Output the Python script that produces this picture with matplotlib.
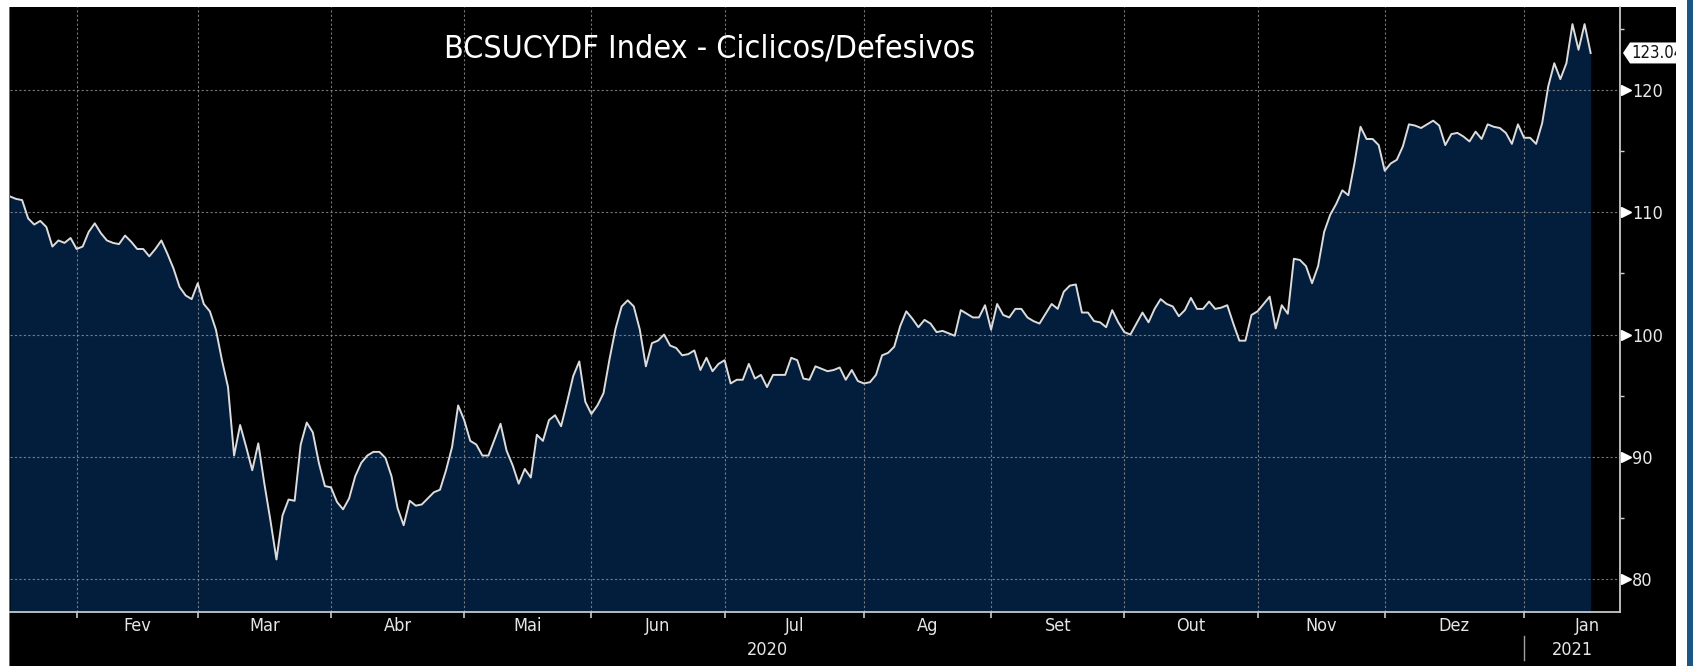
import matplotlib
matplotlib.use('Agg')
import matplotlib.pyplot as plt
import matplotlib.patches as patches
import matplotlib.transforms as mtransforms
import numpy as np

# BCSUCYDF Index, daily closes (business days), one list per month
jan_2020 = [111.3, 111.1, 111.0, 109.5, 109.0, 109.3, 108.8, 107.2, 107.7, 107.5, 107.9]
fev_2020 = [107.0, 107.2, 108.4, 109.1, 108.3, 107.7, 107.5, 107.4, 108.1, 107.6,
            107.0, 107.0, 106.4, 107.0, 107.7, 106.6, 105.4, 103.9, 103.2, 102.9]
mar_2020 = [104.2, 102.5, 101.9, 100.4, 97.9, 95.7, 90.1, 92.6, 90.8, 88.9, 91.1,
            87.8, 84.8, 81.6, 85.2, 86.5, 86.4, 91.0, 92.8, 92.0, 89.5, 87.6]
abr_2020 = [87.5, 86.3, 85.7, 86.6, 88.4, 89.5, 90.1, 90.4, 90.4, 89.9, 88.4,
            85.8, 84.4, 86.4, 86.0, 86.1, 86.6, 87.1, 87.3, 88.9, 90.8, 94.2]
mai_2020 = [93.0, 91.3, 91.0, 90.1, 90.1, 91.4, 92.7, 90.5, 89.3, 87.8, 89.0,
            88.3, 91.8, 91.3, 93.0, 93.4, 92.5, 94.5, 96.6, 97.8, 94.5]
jun_2020 = [93.5, 94.2, 95.2, 98.0, 100.5, 102.3, 102.8, 102.3, 100.4, 97.4, 99.3,
            99.5, 100.0, 99.1, 98.9, 98.3, 98.4, 98.7, 97.1, 98.1, 97.0, 97.6]
jul_2020 = [97.9, 96.0, 96.3, 96.3, 97.6, 96.4, 96.7, 95.7, 96.7, 96.7, 96.7, 98.1,
            97.9, 96.4, 96.3, 97.4, 97.2, 97.0, 97.1, 97.3, 96.3, 97.1, 96.2]
ago_2020 = [96.0, 96.1, 96.7, 98.3, 98.5, 99.0, 100.7, 101.9, 101.3, 100.6, 101.2,
            100.9, 100.2, 100.3, 100.1, 99.9, 102.0, 101.7, 101.4, 101.4, 102.4]
set_2020 = [100.4, 102.5, 101.6, 101.4, 102.1, 102.1, 101.4, 101.1, 100.9, 101.7, 102.5,
            102.1, 103.5, 104.0, 104.1, 101.8, 101.8, 101.1, 101.0, 100.6, 102.0, 101.0]
out_2020 = [100.2, 100.0, 100.9, 101.8, 101.0, 102.1, 102.9, 102.5, 102.3, 101.5, 102.0,
            103.0, 102.1, 102.1, 102.7, 102.1, 102.2, 102.4, 100.9, 99.5, 99.5, 101.6]
nov_2020 = [101.9, 102.5, 103.1, 100.5, 102.4, 101.7, 106.2, 106.1, 105.6, 104.2, 105.6,
            108.4, 109.8, 110.7, 111.8, 111.4, 114.0, 117.0, 116.0, 116.0, 115.5]
dez_2020 = [113.4, 114.0, 114.3, 115.4, 117.2, 117.1, 116.9, 117.2, 117.5, 117.1, 115.5, 116.4,
            116.5, 116.2, 115.8, 116.6, 116.0, 117.2, 117.0, 116.9, 116.5, 115.6, 117.2]
jan_2021 = [116.1, 116.1, 115.6, 117.3, 120.3, 122.2, 120.9, 122.2, 125.4, 123.3, 125.4, 123.04]

month_labels = ['Fev', 'Mar', 'Abr', 'Mai', 'Jun', 'Jul', 'Ag', 'Set', 'Out', 'Nov', 'Dez', 'Jan']
year_labels = ['2020', '2021']
y_ticks = [80, 90, 100, 110, 120]
y_minor = [85, 95, 105, 115, 125]

title = 'BCSUCYDF Index - Ciclicos/Defesivos'

months = [jan_2020, fev_2020, mar_2020, abr_2020, mai_2020, jun_2020, jul_2020,
          ago_2020, set_2020, out_2020, nov_2020, dez_2020, jan_2021]
values = np.concatenate([np.array(m, dtype=float) for m in months])
x = np.arange(len(values))
month_starts = np.cumsum([len(m) for m in months])[:-1]

plt.rcParams['font.family'] = ['Liberation Sans Narrow', 'DejaVu Sans']
plt.rcParams['font.stretch'] = 'condensed'

W, H = 1693, 666
fig = plt.figure(figsize=(W / 100, H / 100), dpi=100)
fig.patch.set_facecolor('white')

# black panel, blue edge line on the left and blue strip on the right
fig.patches.append(patches.Rectangle((10 / W, 0), 1666 / W, 659 / H, transform=fig.transFigure,
                                     facecolor='black', edgecolor='none', zorder=-2))
fig.patches.append(patches.Rectangle((8.5 / W, 0), 1.8 / W, 659 / H, transform=fig.transFigure,
                                     facecolor='#2a78c8', edgecolor='none', zorder=-1))
fig.patches.append(patches.Rectangle((1687 / W, 0), 6 / W, 1, transform=fig.transFigure,
                                     facecolor='#1b5583', edgecolor='none', zorder=-1))

ax = fig.add_axes([10 / W, 54 / H, 1610 / W, 605 / H])
ax.set_zorder(2)
ax.set_facecolor('black')

y_low, y_high = 77.3, 126.8
x_high = 265.85

ax.fill_between(x, values, y_low, color='#031d3c', linewidth=0, zorder=1)
ax.plot(x, values, color='#dcdcdc', linewidth=1.4, zorder=3)

ax.set_xlim(0, x_high)
ax.set_ylim(y_low, y_high)

# x axis: ticks at month starts, labels centred in each month
ax.set_xticks(month_starts)
ax.set_xticklabels([])
ax.tick_params(axis='x', length=4, width=1.2, color='#c8c8c8', direction='out')
label_x = list((month_starts[:-1] + month_starts[1:]) / 2) + [month_starts[-1] + 10.5]
xtr = ax.get_xaxis_transform()
for lx, lab in zip(label_x, month_labels):
    ax.text(lx, -0.023, lab, transform=xtr, ha='center', va='center',
            fontsize=13, color='#e6e6e6', clip_on=False)
ax.text(month_starts[-1] / 2, -0.063, year_labels[0], transform=xtr, ha='center',
        va='center', fontsize=13, color='#e6e6e6', clip_on=False)
ax.text((month_starts[-1] + x_high) / 2, -0.063, year_labels[1], transform=xtr, ha='center',
        va='center', fontsize=13, color='#e6e6e6', clip_on=False)
ax.plot([month_starts[-1], month_starts[-1]], [-0.04, -0.079], transform=xtr,
        color='#a0a0a0', linewidth=1, clip_on=False)

# y axis on the right
ax.yaxis.tick_right()
ax.set_yticks(y_ticks)
ax.set_yticks(y_minor, minor=True)
ax.tick_params(axis='y', which='major', length=0, pad=8.6, labelsize=13, labelcolor='#e8e8e8')
ax.tick_params(axis='y', which='minor', length=3, width=1, color='#d0d0d0', direction='out')
tri_tr = ax.get_yaxis_transform() + mtransforms.ScaledTranslation(5.5 / 100, 0, fig.dpi_scale_trans)
ax.plot([1.0] * len(y_ticks), y_ticks, linestyle='none', marker='>', markersize=6.5,
        color='white', transform=tri_tr, clip_on=False)

ax.grid(True, which='major', color='#8c8c8c', linestyle=(0, (2, 2)), linewidth=0.8, alpha=0.85)

for side in ['top', 'left']:
    ax.spines[side].set_visible(False)
for side in ['bottom', 'right']:
    ax.spines[side].set_color('#c8c8c8')
    ax.spines[side].set_linewidth(1.3)

# last value tag
last = values[-1]
tag_tr = mtransforms.Affine2D() + mtransforms.ScaledTranslation(1.0, last, ax.get_yaxis_transform())
tag = patches.Polygon([(3, 0), (10, 10.5), (56, 10.5), (56, -10.5), (10, -10.5)],
                      closed=True, facecolor='white', edgecolor='none', transform=tag_tr,
                      clip_on=False, zorder=5)
ax.add_patch(tag)
txt_tr = ax.get_yaxis_transform() + mtransforms.ScaledTranslation(11 / 100, 0, fig.dpi_scale_trans)
t = ax.text(1.0, last, '%.2f' % last, transform=txt_tr, ha='left', va='center',
            fontsize=12, color='#111111', zorder=6)
t.set_clip_on(True)
t.set_clip_box(mtransforms.Bbox.from_extents(0, 0, 1676, H))

fig.text(710 / W, 1 - 49 / H, title, ha='center', va='center', fontsize=23, color='white')

fig.savefig('out.png', dpi=100, facecolor=fig.get_facecolor())
